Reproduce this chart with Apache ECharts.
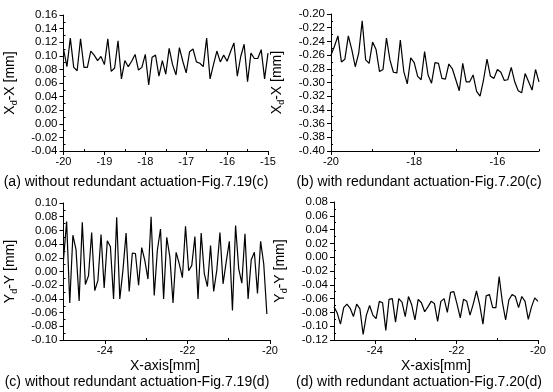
<!DOCTYPE html>
<html><head><meta charset="utf-8">
<script src="https://cdn.jsdelivr.net/npm/echarts@6/dist/echarts.min.js"></script>
<style>html,body{margin:0;padding:0;background:#fff}#c{width:553px;height:392px}</style>
</head><body><div id="c"></div>
<script>
// ---- data ----
const aStart = -20, aStep = 5 / 60;
const aValues = [0.110,0.084,0.126,0.083,0.078,0.125,0.083,0.083,0.107,0.101,
0.093,0.099,0.087,0.125,0.077,0.082,0.122,0.066,0.093,0.084,
0.092,0.102,0.079,0.083,0.102,0.057,0.098,0.101,0.070,0.093,
0.073,0.111,0.087,0.072,0.112,0.092,0.075,0.106,0.110,0.091,
0.089,0.084,0.126,0.066,0.087,0.107,0.091,0.101,0.092,0.106,
0.119,0.070,0.099,0.117,0.062,0.104,0.096,0.096,0.109,0.066,0.104];

const bStart = -20, bStep = 5 / 60;
const bValues = [-0.260,-0.247,-0.232,-0.270,-0.266,-0.232,-0.252,-0.277,-0.257,-0.210,
-0.267,-0.272,-0.241,-0.252,-0.284,-0.281,-0.235,-0.267,-0.285,-0.286,
-0.238,-0.284,-0.302,-0.264,-0.271,-0.291,-0.296,-0.255,-0.289,-0.301,
-0.271,-0.272,-0.294,-0.295,-0.273,-0.280,-0.296,-0.312,-0.272,-0.299,
-0.299,-0.289,-0.313,-0.320,-0.296,-0.266,-0.291,-0.294,-0.281,-0.285,
-0.297,-0.296,-0.278,-0.299,-0.312,-0.315,-0.287,-0.299,-0.311,-0.281,-0.299];

const cStart = -25, cStep = 5 / 66;
const cValues = [0.017,0.073,-0.046,0.053,0.032,-0.043,0.072,-0.019,-0.006,0.057,
-0.028,-0.013,0.054,-0.024,0.045,0.036,-0.040,0.079,-0.040,0.002,
0.056,-0.029,0.027,0.026,-0.020,0.035,0.016,-0.011,0.080,-0.035,
0.031,0.062,-0.040,0.050,0.021,-0.046,0.028,0.011,-0.009,0.066,
0.001,0.009,0.051,-0.040,0.056,-0.003,-0.022,0.038,-0.029,0.002,
0.057,-0.018,0.014,0.044,-0.057,0.067,0.004,-0.017,0.055,-0.040,
0.017,0.028,-0.032,0.044,0.011,-0.062];

const dStart = -25, dStep = 5 / 63;
const dValues = [-0.072,-0.081,-0.097,-0.073,-0.068,-0.074,-0.086,-0.068,-0.075,-0.112,
-0.084,-0.070,-0.084,-0.089,-0.064,-0.066,-0.106,-0.061,-0.060,-0.094,
-0.060,-0.065,-0.086,-0.057,-0.069,-0.091,-0.061,-0.066,-0.079,-0.072,
-0.064,-0.067,-0.093,-0.064,-0.060,-0.080,-0.051,-0.050,-0.068,-0.088,
-0.061,-0.064,-0.084,-0.068,-0.049,-0.069,-0.097,-0.056,-0.054,-0.073,
-0.073,-0.028,-0.065,-0.091,-0.062,-0.054,-0.057,-0.073,-0.057,-0.064,
-0.090,-0.072,-0.059,-0.064];

// tick labels
const aXTicks = [-20,-19,-18,-17,-16,-15];
const aXMinor = [-19.5,-18.5,-17.5,-16.5,-15.5];
const aYTicks = [-0.04,-0.02,0.00,0.02,0.04,0.06,0.08,0.10,0.12,0.14,0.16];
const bXTicks = [-20,-18,-16];
const bXMinor = [-19,-17,-15];
const bYTicks = [-0.40,-0.38,-0.36,-0.34,-0.32,-0.30,-0.28,-0.26,-0.24,-0.22,-0.20];
const cXTicks = [-24,-22,-20];
const cXMinor = [-25,-23,-21];
const cYTicks = [-0.10,-0.08,-0.06,-0.04,-0.02,0.00,0.02,0.04,0.06,0.08,0.10];
const dXTicks = [-24,-22,-20];
const dXMinor = [-25,-23,-21];
const dYTicks = [-0.12,-0.10,-0.08,-0.06,-0.04,-0.02,0.00,0.02,0.04,0.06,0.08];

const captions = [
  '(a) without redundant actuation-Fig.7.19(c)',
  '(b) with redundant actuation-Fig.7.20(c)',
  '(c) without redundant actuation-Fig.7.19(d)',
  '(d) with redundant actuation-Fig.7.20(d)'
];
const xTitle = 'X-axis[mm]';

// ---- build ----
const FONT = 'Liberation Sans, Arial, sans-serif';
function halfSteps(arr){const r=[];for(let i=0;i<arr.length-1;i++)r.push((arr[i]+arr[i+1])/2);return r;}
function pairs(start, step, vals){return vals.map((v,i)=>[start+i*step, v]);}

const panels = [
  {grid:{left:63,top:15,width:205,height:136}, xmin:-20,xmax:-15, xt:aXTicks, xm:aXMinor, yt:aYTicks, ymin:-0.04,ymax:0.16, data:pairs(aStart,aStep,aValues), yname:['X','d','-X [mm]']},
  {grid:{left:331,top:14,width:208,height:137}, xmin:-20,xmax:-15, xt:bXTicks, xm:bXMinor, yt:bYTicks, ymin:-0.40,ymax:-0.20, data:pairs(bStart,bStep,bValues), yname:['X','d','-X [mm]']},
  {grid:{left:63,top:203,width:207,height:137}, xmin:-25,xmax:-20, xt:cXTicks, xm:cXMinor, yt:cYTicks, ymin:-0.10,ymax:0.10, data:pairs(cStart,cStep,cValues), yname:['Y','d','-Y [mm]']},
  {grid:{left:334,top:202,width:204,height:138}, xmin:-25,xmax:-20, xt:dXTicks, xm:dXMinor, yt:dYTicks, ymin:-0.12,ymax:0.08, data:pairs(dStart,dStep,dValues), yname:['Y','d','-Y [mm]']}
];

const grid=[], xAxis=[], yAxis=[], series=[];
panels.forEach((p,i)=>{
  grid.push(Object.assign({containLabel:false}, p.grid));
  const axLine = {show:true, onZero:false, lineStyle:{color:'#000', width:1}};
  xAxis.push({type:'value', gridIndex:i, min:p.xmin, max:p.xmax, position:'bottom',
    axisLine:axLine, splitLine:{show:false},
    axisTick:{show:true, inside:false, length:4, lineStyle:{color:'#000'}, customValues:p.xt},
    axisLabel:{show:true, customValues:p.xt, color:'#000', fontFamily:FONT, fontSize:11, margin:5, formatter:v=>String(Math.round(v))}
  });
  xAxis.push({type:'value', gridIndex:i, min:p.xmin, max:p.xmax, position:'bottom',
    axisLine:{show:false, onZero:false}, splitLine:{show:false}, axisLabel:{show:false},
    axisTick:{show:true, inside:true, length:2, lineStyle:{color:'#000'}, customValues:p.xm}
  });
  yAxis.push({type:'value', gridIndex:i, min:p.ymin, max:p.ymax, position:'left',
    axisLine:axLine, splitLine:{show:false},
    axisTick:{show:true, inside:false, length:4, lineStyle:{color:'#000'}, customValues:p.yt},
    axisLabel:{show:true, customValues:p.yt, color:'#000', fontFamily:FONT, fontSize:11.5, margin:6, formatter:v=>{const s=v.toFixed(2);return s==='-0.00'?'0.00':s;}},
    name:'{m|'+p.yname[0]+'}{s|'+p.yname[1]+'}{m|'+p.yname[2]+'}',
    nameLocation:'middle', nameRotate:90, nameGap:45,
    nameTextStyle:{rich:{
      m:{fontFamily:FONT, fontSize:14, color:'#000', lineHeight:17},
      s:{fontFamily:FONT, fontSize:9, color:'#000', lineHeight:9, padding:[9,0,0,0]}
    }}
  });
  yAxis.push({type:'value', gridIndex:i, min:p.ymin, max:p.ymax, position:'left',
    axisLine:{show:false, onZero:false}, splitLine:{show:false}, axisLabel:{show:false},
    axisTick:{show:true, inside:true, length:2, lineStyle:{color:'#000'}, customValues:halfSteps(p.yt)}
  });
  series.push({type:'line', xAxisIndex:2*i, yAxisIndex:2*i, data:p.data, showSymbol:false, symbol:'none',
    lineStyle:{color:'#000', width:1.2}, animation:false, silent:true});
});

const CAP = '14px '+FONT;
const graphic = [
  {type:'text', x:136, y:182, style:{text:captions[0], font:CAP, fill:'#000', align:'center', verticalAlign:'middle'}},
  {type:'text', x:419, y:182, style:{text:captions[1], font:CAP, fill:'#000', align:'center', verticalAlign:'middle'}},
  {type:'text', x:137, y:382, style:{text:captions[2], font:CAP, fill:'#000', align:'center', verticalAlign:'middle'}},
  {type:'text', x:419, y:382, style:{text:captions[3], font:CAP, fill:'#000', align:'center', verticalAlign:'middle'}},
  {type:'text', x:165, y:366, style:{text:xTitle, font:'14px '+FONT, fill:'#000', align:'center', verticalAlign:'middle'}},
  {type:'text', x:436, y:366, style:{text:xTitle, font:'14px '+FONT, fill:'#000', align:'center', verticalAlign:'middle'}}
];

const chart = echarts.init(document.getElementById('c'), null, {renderer:'canvas'});
chart.setOption({animation:false, backgroundColor:'#fff', grid, xAxis, yAxis, series, graphic});
</script>
</body></html>
